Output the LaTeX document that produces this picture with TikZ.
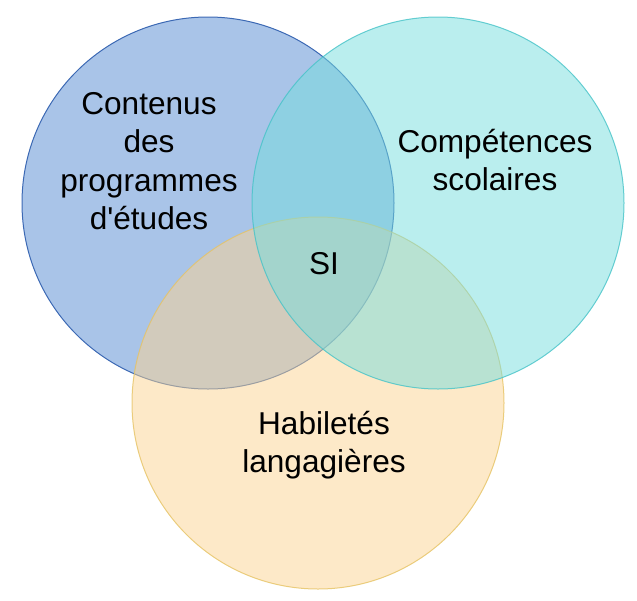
\documentclass[tikz,border=0pt]{standalone}
\usepackage{fontspec}
\setmainfont{Liberation Sans}[Ligatures=TeXOff]
\usepackage{tikz}
\definecolor{bleuC}{RGB}{169,196,232}
\definecolor{bleuT}{RGB}{60,105,180}
\definecolor{cyanC}{RGB}{117,221,221}
\definecolor{cyanT}{RGB}{70,195,200}
\definecolor{orC}{RGB}{251,211,145}
\definecolor{orT}{RGB}{230,195,100}

\begin{document}
\begin{tikzpicture}[x=1pt,y=-1pt,
    ensemble/.style={circle,minimum size=372pt,inner sep=0pt,line width=1pt},
    titre/.style={align=center,inner sep=0pt,font=\fontsize{31.6}{38.4}\selectfont}]
  \useasboundingbox (0,0) rectangle (637,600);
  % les trois ensembles
  \node[ensemble,draw=bleuT,fill=bleuC] (contenus) at (208,203) {};
  \node[ensemble,draw=orT,fill=orC,fill opacity=0.5,draw opacity=0.8] (habiletes) at (318,403) {};
  \node[ensemble,draw=cyanT,fill=cyanC,fill opacity=0.5,draw opacity=0.8] (competences) at (438,203) {};
  % textes
  \node[titre] (tcontenus) at (149,161) {Contenus\\des\\programmes\\d'études};
  \node[titre] (tcompetences) at (495,160) {Compétences\\scolaires};
  \node[titre] (tsi) at (324,264) {SI};
  \node[titre] (thabiletes) at (324,445) {Habiletés\\langagières};
\end{tikzpicture}
\end{document}
